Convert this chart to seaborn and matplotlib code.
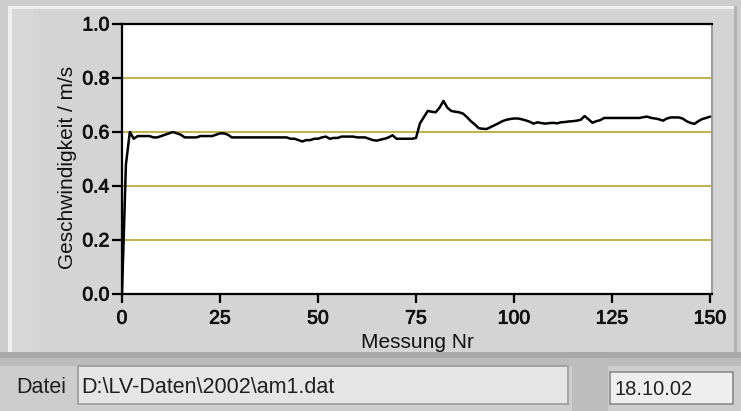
import matplotlib
matplotlib.use("Agg")
import matplotlib.pyplot as plt
from matplotlib.patches import Rectangle
import matplotlib.patheffects as pe
import pandas as pd
import seaborn as sns

# Geschwindigkeit je Messung (m/s), Messung 0..150
geschwindigkeit = [
    0.00, 0.48, 0.60, 0.575, 0.585, 0.585, 0.585, 0.585, 0.58, 0.58,
    0.585, 0.59, 0.595, 0.60, 0.595, 0.59, 0.58, 0.58, 0.58, 0.58,
    0.585, 0.585, 0.585, 0.585, 0.59, 0.595, 0.595, 0.59, 0.58, 0.58,
    0.58, 0.58, 0.58, 0.58, 0.58, 0.58, 0.58, 0.58, 0.58, 0.58,
    0.58, 0.58, 0.58, 0.575, 0.575, 0.57, 0.565, 0.57, 0.57, 0.575,
    0.575, 0.58, 0.583, 0.575, 0.578, 0.578, 0.583, 0.583, 0.583, 0.583,
    0.58, 0.58, 0.58, 0.575, 0.57, 0.568, 0.572, 0.575, 0.58, 0.588,
    0.575, 0.575, 0.575, 0.575, 0.575, 0.578, 0.632, 0.655, 0.678, 0.675,
    0.673, 0.69, 0.715, 0.69, 0.678, 0.675, 0.673, 0.668, 0.655, 0.64,
    0.628, 0.614, 0.612, 0.611, 0.618, 0.625, 0.632, 0.64, 0.645, 0.648,
    0.65, 0.65, 0.647, 0.643, 0.638, 0.631, 0.636, 0.633, 0.631, 0.633,
    0.634, 0.632, 0.636, 0.637, 0.639, 0.64, 0.642, 0.645, 0.659, 0.647,
    0.634, 0.64, 0.644, 0.652, 0.652, 0.652, 0.652, 0.652, 0.652, 0.652,
    0.652, 0.652, 0.652, 0.655, 0.657, 0.652, 0.65, 0.647, 0.642, 0.65,
    0.654, 0.654, 0.654, 0.65, 0.64, 0.634, 0.63, 0.64, 0.648, 0.652,
    0.657,
]
messung = list(range(len(geschwindigkeit)))

x_ticks = [0, 25, 50, 75, 100, 125, 150]
y_ticks = [0.0, 0.2, 0.4, 0.6, 0.8, 1.0]
y_tick_labels = ["0.0", "0.2", "0.4", "0.6", "0.8", "1.0"]
grid_levels = [0.2, 0.4, 0.6, 0.8]

datei = r"D:\LV-Daten\2002\am1.dat"
datum = "18.10.02"

df = pd.DataFrame({"Messung Nr": messung, "v": geschwindigkeit})

sns.set_theme(style="white")
plt.rcParams["font.family"] = ["Liberation Sans", "DejaVu Sans"]

W, H = 741, 411
fig = plt.figure(figsize=(W / 100, H / 100), dpi=100)
fig.patch.set_facecolor("#d2d2d2")


def px_rect(x0, y0, x1, y1, **kw):
    """Rectangle in pixel coordinates (origin top-left)."""
    r = Rectangle((x0 / W, 1 - y1 / H), (x1 - x0) / W, (y1 - y0) / H,
                  transform=fig.transFigure, **kw)
    fig.add_artist(r)
    return r


# raised panel around the graph
px_rect(0, 0, W, H, facecolor="#cdcdcd", edgecolor="none", zorder=-5)
px_rect(8, 6, 737, 354, facecolor="#d4d4d4", edgecolor="none", zorder=-4)
px_rect(8, 6, 737, 9, facecolor="#efefef", edgecolor="none", zorder=-3)
px_rect(8, 6, 12, 354, facecolor="#efefef", edgecolor="none", zorder=-3)
px_rect(12, 9, 33, 352, facecolor="#d8d8d8", edgecolor="none", zorder=-3)
px_rect(734, 6, 737, 354, facecolor="#b2b2b2", edgecolor="none", zorder=-3)
px_rect(0, 352, W, 358, facecolor="#a8a8a8", edgecolor="none", zorder=-3)
px_rect(0, 358, W, 366, facecolor="#bcbcbc", edgecolor="none", zorder=-3)
px_rect(572, 358, 608, H, facecolor="#bdbdbd", edgecolor="none", zorder=-3)

# file name and date fields
px_rect(78, 366, 568, 404, facecolor="#e5e5e5", edgecolor="#9a9a9a",
        linewidth=1.2, zorder=-2)
px_rect(610, 372, 733, 404, facecolor="#eeeeee", edgecolor="#8a8a8a",
        linewidth=1.2, zorder=-2)
fig.text(16 / W, 1 - 387 / H, "Datei", fontsize=15.5, ha="left",
         va="center", color="#202020")
fig.text(81 / W, 1 - 387 / H, datei, fontsize=15.5, ha="left", va="center",
         color="#202020")
fig.text(614 / W, 1 - 389 / H, datum, fontsize=14.5, ha="left", va="center",
         color="#202020")

ax = fig.add_axes([122 / W, 1 - 294 / H, (712 - 122) / W, (294 - 24) / H])
ax.set_facecolor("white")

for g in grid_levels:
    ax.axhline(g, color="#c2b04a", linewidth=1.4, zorder=1)

sns.lineplot(data=df, x="Messung Nr", y="v", ax=ax, color="black",
             linewidth=1.8, zorder=3)

ax.set_xlim(0, 150.5)
ax.set_ylim(0, 1.0)
ax.set_xticks(x_ticks)
ax.set_yticks(y_ticks)
ax.set_yticklabels(y_tick_labels)
ax.tick_params(axis="x", direction="out", length=6.5, width=1.6,
               color="black", labelsize=14, labelcolor="#111111",
               bottom=True, pad=5.5)
ax.tick_params(axis="y", direction="out", length=7, width=1.6,
               color="black", labelsize=14, labelcolor="#111111",
               left=True, pad=2)
bold_stroke = [pe.withStroke(linewidth=0.6, foreground="#111111")]
for lbl in ax.get_xticklabels() + ax.get_yticklabels():
    lbl.set_path_effects(bold_stroke)

ax.set_xlabel("Messung Nr", fontsize=15, color="#111111")
ax.set_ylabel("Geschwindigkeit / m/s", fontsize=15, color="#111111")
ax.xaxis.set_label_coords(0.5, -0.145)
ax.yaxis.set_label_coords(-0.077, 0.467)

for side in ("left", "bottom", "top"):
    ax.spines[side].set_color("black")
    ax.spines[side].set_linewidth(1.6)
ax.spines["right"].set_color("#9c9c9c")
ax.spines["right"].set_linewidth(1.5)

fig.savefig("out.png", dpi=100, facecolor=fig.get_facecolor())
